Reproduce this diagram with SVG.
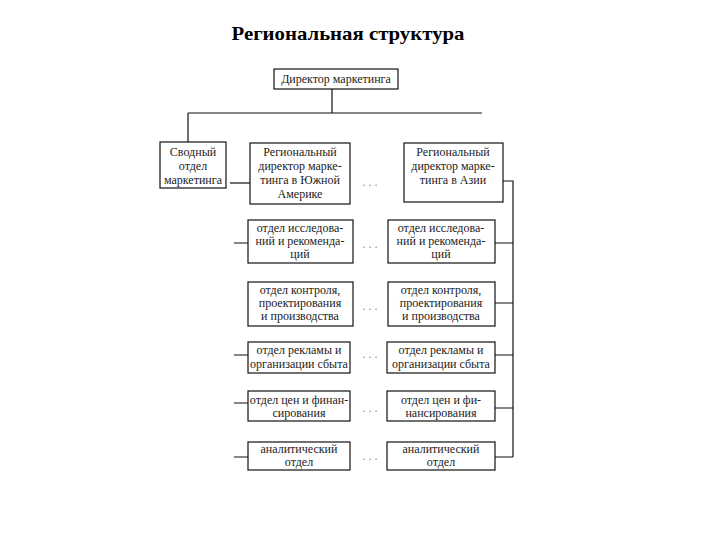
<svg xmlns="http://www.w3.org/2000/svg" width="720" height="540" viewBox="0 0 720 540">
<style>
.bx{fill:#fff;stroke:#111;stroke-width:1.2}
.ln{fill:none;stroke:#111;stroke-width:1.2}
.t{font-family:"Liberation Serif","Times New Roman",serif;font-size:12px;fill:#222;text-anchor:middle}
.dots{font-family:"Liberation Serif",serif;font-size:12px;fill:#888;text-anchor:middle}
.title{font-family:"Liberation Serif","Times New Roman",serif;font-size:19px;font-weight:bold;fill:#000;text-anchor:middle}
</style>
<rect width="720" height="540" fill="#fff"/>
<text class="title" x="348" y="40" textLength="233" lengthAdjust="spacingAndGlyphs">Региональная структура</text>

<g id="connectors">
<path class="ln" d="M332 89V113M188 113H482M188 113V142"/>
<path class="ln" d="M230 183H250"/>
<path class="ln" d="M503 181H513V457"/>
<path class="ln" d="M495 243H513M495 303H513M495 355H513M495 408H513M495 457H513"/>
<path class="ln" d="M234 243H248M234 355H248M234 403H248M234 457H248"/>
</g>

<g id="director"><rect class="bx" x="274" y="69" width="124" height="20"/><text class="t" x="336" y="83">Директор маркетинга</text></g>

<g id="svodny"><rect class="bx" x="160" y="142" width="66" height="46"/>
<text class="t" x="193" y="156">Сводный</text><text class="t" x="193" y="170">отдел</text><text class="t" x="193" y="184">маркетинга</text></g>

<g id="reg-sa"><rect class="bx" x="250" y="143" width="100" height="61"/>
<text class="t" x="300" y="156">Региональный</text><text class="t" x="300" y="170">директор марке-</text><text class="t" x="300" y="184">тинга в Южной</text><text class="t" x="300" y="198">Америке</text></g>

<g id="reg-asia"><rect class="bx" x="404" y="143" width="99" height="59"/>
<text class="t" x="453" y="156">Региональный</text><text class="t" x="453" y="170">директор марке-</text><text class="t" x="453" y="184">тинга в Азии</text></g>

<g id="l-research"><rect class="bx" x="248" y="220" width="105" height="43"/>
<text class="t" x="300" y="232">отдел исследова-</text><text class="t" x="300" y="245">ний и рекоменда-</text><text class="t" x="300" y="258">ций</text></g>
<g id="r-research"><rect class="bx" x="388" y="220" width="107" height="43"/>
<text class="t" x="441" y="232">отдел исследова-</text><text class="t" x="441" y="245">ний и рекоменда-</text><text class="t" x="441" y="258">ций</text></g>

<g id="l-control"><rect class="bx" x="248" y="282" width="105" height="44"/>
<text class="t" x="300" y="294">отдел контроля,</text><text class="t" x="300" y="307">проектирования</text><text class="t" x="300" y="320">и производства</text></g>
<g id="r-control"><rect class="bx" x="388" y="282" width="107" height="44"/>
<text class="t" x="441" y="294">отдел контроля,</text><text class="t" x="441" y="307">проектирования</text><text class="t" x="441" y="320">и производства</text></g>

<g id="l-ads"><rect class="bx" x="248" y="342" width="102" height="31"/>
<text class="t" x="299" y="354">отдел рекламы и</text><text class="t" x="299" y="368">организации сбыта</text></g>
<g id="r-ads"><rect class="bx" x="387" y="342" width="108" height="31"/>
<text class="t" x="441" y="354">отдел рекламы и</text><text class="t" x="441" y="368">организации сбыта</text></g>

<g id="l-price"><rect class="bx" x="248" y="391" width="102" height="30"/>
<text class="t" x="299" y="404">отдел цен и финан-</text><text class="t" x="299" y="417">сирования</text></g>
<g id="r-price"><rect class="bx" x="387" y="391" width="108" height="30"/>
<text class="t" x="441" y="404">отдел цен и фи-</text><text class="t" x="441" y="417">нансирования</text></g>

<g id="l-analytic"><rect class="bx" x="248" y="442" width="102" height="28"/>
<text class="t" x="299" y="453">аналитический</text><text class="t" x="299" y="466">отдел</text></g>
<g id="r-analytic"><rect class="bx" x="387" y="442" width="108" height="28"/>
<text class="t" x="441" y="453">аналитический</text><text class="t" x="441" y="466">отдел</text></g>

<g id="dots">
<text class="dots" x="370" y="186">. . .</text>
<text class="dots" x="370" y="248">. . .</text>
<text class="dots" x="370" y="310">. . .</text>
<text class="dots" x="370" y="358">. . .</text>
<text class="dots" x="370" y="412">. . .</text>
<text class="dots" x="370" y="460">. . .</text>
</g>
</svg>
